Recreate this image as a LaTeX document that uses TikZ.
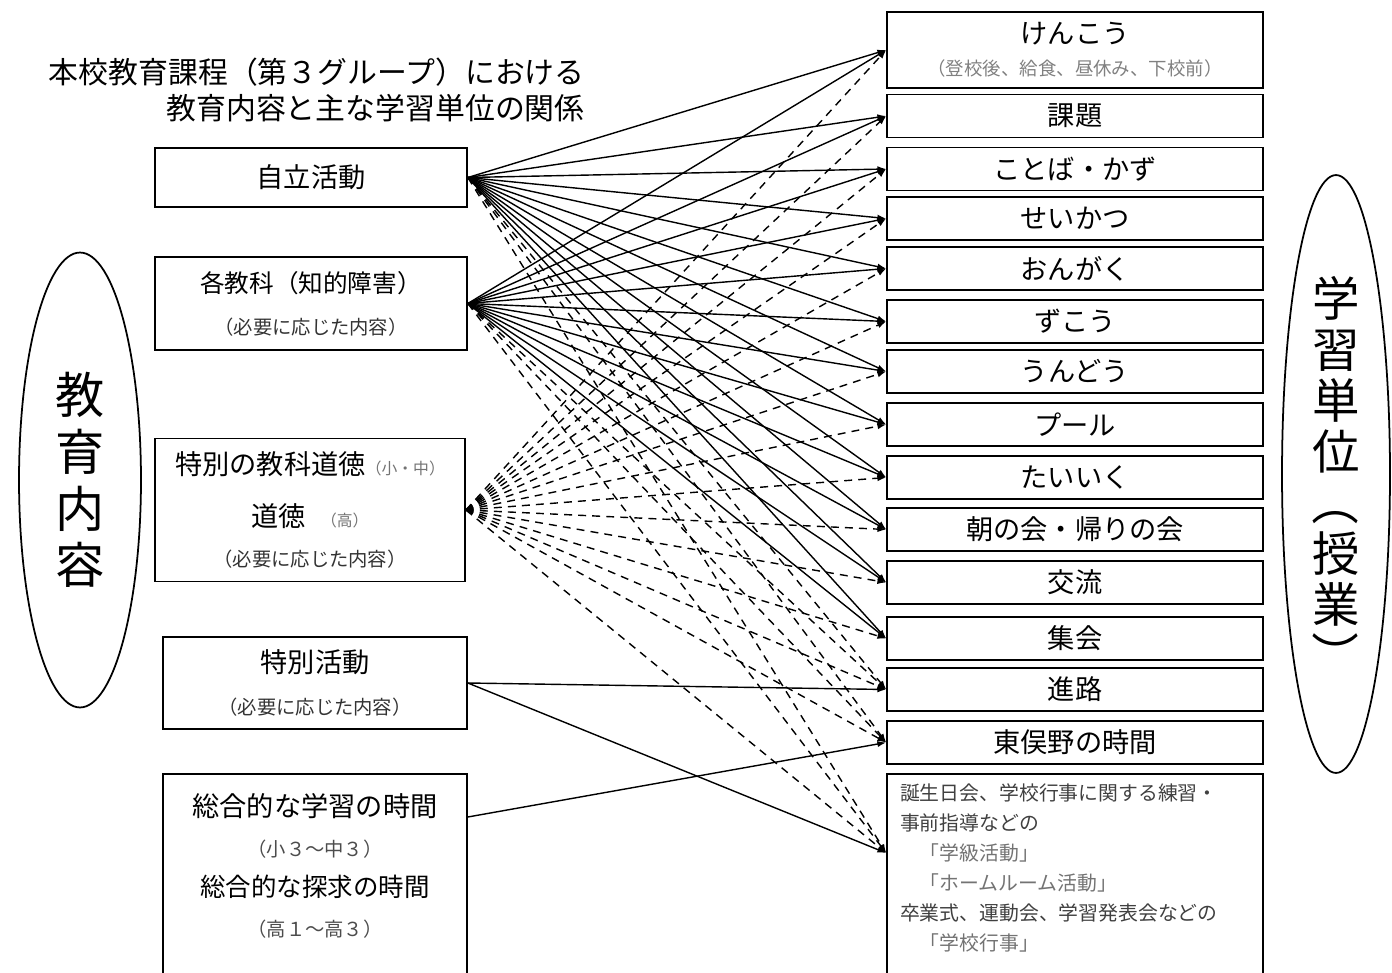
\documentclass[tikz,border=0pt]{standalone}
\usepackage{fontspec}
\setmainfont{Noto Sans CJK JP}
\usetikzlibrary{arrows.meta,shapes.geometric}
\newcommand{\bigsz}{\fontsize{15.5}{24}\selectfont}
\newcommand{\subsz}{\fontsize{11}{24}\selectfont}
\newcommand{\tinysz}{\fontsize{9}{24}\selectfont}

\begin{document}
\begin{tikzpicture}[%
  x=0.02cm, y=-0.02cm,
  box/.style={draw, line width=1pt, inner sep=0pt, align=center, font=\bigsz},
  lbox/.style={box, minimum width=6.24cm},
  rbox/.style={box, minimum width=7.52cm, minimum height=0.86cm},
  oval/.style={draw, ellipse, line width=1pt, inner sep=0pt},
  vtext/.style={inner sep=0pt, align=center},
  sl/.style={line width=0.8pt, -{Latex[length=5pt,width=3.5pt]}},
  dl/.style={sl, dash pattern=on 4.5pt off 3.5pt}]
\path[use as bounding box] (0,0) rectangle (1392,973);
\clip (0,0) rectangle (1392,973);

\node[align=right, anchor=east, inner sep=0pt, font=\fontsize{17}{20.4}\selectfont] (title) at (585,90)
  {本校教育課程（第３グループ）における\\教育内容と主な学習単位の関係};

\node[oval, minimum width=2.44cm, minimum height=9.1cm] (edu) at (80,480) {};
\node[vtext, font=\fontsize{28}{32.3}\selectfont] (edutext) at (edu.center) {教\\育\\内\\容};
\node[oval, minimum width=2.16cm, minimum height=11.96cm] (unit) at (1336,474) {};
\node[vtext, font=\fontsize{27}{29}\selectfont] (unittext) at (1336,478)
  {学\\習\\単\\位\\\rotatebox[origin=c]{-90}{（}\\授\\業\\\rotatebox[origin=c]{-90}{）}};

\node[lbox, minimum height=1.18cm] (A) at (311,177.5) {自立活動};
\node[lbox, minimum height=1.86cm] (B) at (311,303.5)
  {{\fontsize{14}{24}\selectfont 各教科（知的障害）}\\{\subsz\color{black!80}（必要に応じた内容）}};
\node[lbox, minimum width=6.2cm, minimum height=2.86cm, font=\fontsize{15.5}{23}\selectfont] (C) at (310,510)
  {特別の教科道徳{\tinysz\color{black!55}（小・中）}\\[6.5pt]道徳\hspace{0.3cm}{\tinysz\color{black!55}（高）}\\{\subsz\color{black!80}（必要に応じた内容）}};
\node[lbox, minimum width=6.08cm, minimum height=1.84cm] (D) at (315,683)
  {特別活動\\{\subsz\color{black!80}（必要に応じた内容）}};
\node[box, anchor=north, inner xsep=0pt, inner ysep=0.4cm] (E) at (315,773)
  {\begin{minipage}[t][4.2cm][t]{6.08cm}\centering\fontsize{15.5}{22.7}\selectfont
  総合的な学習の時間\\{\subsz\color{black!70}（小３～中３）}\\{\fontsize{14.5}{22.7}\selectfont 総合的な探求の時間}\\{\subsz\color{black!70}（高１～高３）}
  \end{minipage}};
\coordinate (Eout) at ([yshift=-0.88cm]E.north east);

\node[rbox, minimum height=1.52cm, font=\fontsize{15.5}{18}\selectfont] (t1) at (1075,50)
  {けんこう\\{\fontsize{10.5}{18}\selectfont\color{black!50}（登校後、給食、昼休み、下校前）}};
\node[rbox] (t2) at (1075,116) {課題};
\node[rbox] (t3) at (1075,169) {ことば・かず};
\node[rbox] (t4) at (1075,218.5) {せいかつ};
\node[rbox] (t5) at (1075,268.5) {おんがく};
\node[rbox] (t6) at (1075,321.5) {ずこう};
\node[rbox] (t7) at (1075,371.5) {うんどう};
\node[rbox] (t8) at (1075,424.5) {プール};
\node[rbox] (t9) at (1075,477.5) {たいいく};
\node[rbox] (t10) at (1075,529.5) {朝の会・帰りの会};
\node[rbox] (t11) at (1075,582.5) {交流};
\node[rbox] (t12) at (1075,638.5) {集会};
\node[rbox] (t13) at (1075,689.5) {進路};
\node[rbox] (t14) at (1075,742.5) {東俣野の時間};
\node[box, anchor=north, inner xsep=0.26cm, inner ysep=0.2cm] (t15) at (1075,773)
  {\begin{minipage}[t][4.3cm][t]{7.0cm}\fontsize{11.3}{17}\selectfont\color{black!75}
  誕生日会、学校行事に関する練習・\\事前指導などの\\　{\color{black!55}「学級活動」}\\　{\color{black!55}「ホームルーム活動」}\\卒業式、運動会、学習発表会などの\\　{\color{black!55}「学校行事」}
  \end{minipage}};
\coordinate (t15in) at ([yshift=-1.6cm]t15.north west);

\path (A.east) edge[sl] (t1.west) edge[sl] (t2.west) edge[sl] (t3.west) edge[sl] (t4.west)
  edge[sl] (t5.west) edge[sl] (t6.west) edge[sl] (t7.west) edge[sl] (t8.west) edge[sl] (t9.west)
  edge[sl] (t10.west) edge[sl] (t11.west) edge[sl] (t12.west)
  edge[dl] (t13.west) edge[dl] (t14.west) edge[dl] (t15in);
\path (B.east) edge[sl] (t1.west) edge[sl] (t2.west) edge[sl] (t3.west) edge[sl] (t4.west)
  edge[sl] (t5.west) edge[sl] (t6.west) edge[sl] (t7.west) edge[sl] (t8.west) edge[sl] (t9.west)
  edge[sl] (t10.west) edge[sl] (t11.west) edge[sl] (t12.west)
  edge[dl] (t13.west) edge[dl] (t14.west) edge[dl] (t15in);
\path (C.east) edge[dl] (t1.west) edge[dl] (t2.west) edge[dl] (t3.west) edge[dl] (t4.west)
  edge[dl] (t5.west) edge[dl] (t6.west) edge[dl] (t7.west) edge[dl] (t8.west) edge[dl] (t9.west)
  edge[dl] (t10.west) edge[dl] (t11.west) edge[dl] (t12.west)
  edge[dl] (t13.west) edge[dl] (t14.west) edge[dl] (t15in);
\path (D.east) edge[sl] (t13.west) edge[sl] (t15in);
\path (Eout) edge[sl] (t14.west);
\end{tikzpicture}
\end{document}
